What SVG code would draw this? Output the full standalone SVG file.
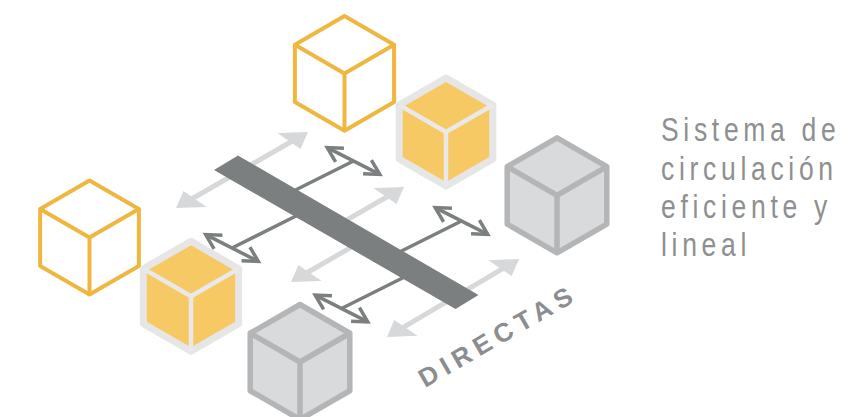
<svg xmlns="http://www.w3.org/2000/svg" width="866" height="417" viewBox="0 0 866 417">
  <style>
    .flow { fill: none; stroke: #d7d8d9; stroke-width: 5; marker-start: url(#headLight); marker-end: url(#headLight); }
    .branch { fill: none; stroke: #7b7f80; stroke-width: 3.5; }
    .link { fill: none; stroke: #7b7f80; stroke-width: 3.5; marker-start: url(#headDark); marker-end: url(#headDark); }
    .bar { fill: #7b7f80; }
    .cube-line { fill: #ffffff; stroke: #efb740; stroke-width: 4; stroke-linejoin: round; }
    .cube-line-in { fill: none; stroke: #efb740; stroke-width: 4; stroke-linejoin: round; }
    .cube-gold { fill: #f7c964; stroke: #e6e6e6; stroke-width: 7; stroke-linejoin: round; }
    .cube-gold-in { fill: none; stroke: #e9e9e9; stroke-width: 4.5; stroke-linejoin: round; }
    .cube-grey { fill: #d9dadb; stroke: #b4b5b7; stroke-width: 5.5; stroke-linejoin: round; }
    .cube-grey-in { fill: none; stroke: #b4b5b7; stroke-width: 5.5; stroke-linejoin: round; }
    .caption { font-family: "Liberation Sans", Arial, sans-serif; font-size: 34px; fill: #8e8f91; letter-spacing: 6px; }
    .tag { font-family: "Liberation Sans", Arial, sans-serif; font-size: 26px; font-weight: bold; fill: #8c8d8f; letter-spacing: 6px; }
  </style>
  <defs>
    <marker id="headLight" markerUnits="userSpaceOnUse" viewBox="-20 -20 40 40" markerWidth="40" markerHeight="40" refX="0" refY="0" orient="auto-start-reverse">
      <path d="M12,0 L-15,-14.5 L-3,11 Z" fill="#d7d8d9"/>
    </marker>
    <marker id="headDark" markerUnits="userSpaceOnUse" viewBox="-20 -20 40 40" markerWidth="40" markerHeight="40" refX="0" refY="0" orient="auto-start-reverse">
      <path d="M-15.2,7 L0,0 L-14,-9" fill="none" stroke="#7b7f80" stroke-width="3.5"/>
    </marker>
  </defs>

  <!-- circulation paths under the spine -->
  <g id="connectors">
    <path class="flow" d="M186.4,202 L297.6,138"/>
    <path class="flow" d="M301.4,276 L358,243.3 M340,223.9 L393.6,193"/>
    <path class="flow" d="M397.3,330.9 L508.7,265.1"/>

    <path class="branch" d="M232,248 L300,214 M290,192.75 L353.5,161"/>
    <path class="branch" d="M341.5,308.5 L410,274.25 M396,253.75 L461.5,221"/>
  </g>

  <!-- main spine -->
  <g id="spine">
    <polygon class="bar" points="214,170 238,155.5 478.5,295 455.5,309"/>
  </g>

  <!-- direct two-way links -->
  <g id="links">
    <path class="link" d="M327.2,147.6 L379.8,174.4"/>
    <path class="link" d="M205.7,234.6 L258.3,261.4"/>
    <path class="link" d="M435.2,207.6 L487.8,234.4"/>
    <path class="link" d="M315.2,295.1 L367.8,321.9"/>
  </g>

  <!-- blocks -->
  <g id="cube-top-outline">
    <polygon class="cube-line" points="344.5,16.1 394.1,44.75 394.1,102.05 344.5,130.7 294.9,102.05 294.9,44.75"/>
    <path class="cube-line-in" d="M294.9,44.75 L344.5,73.4 L394.1,44.75 M344.5,73.4 V130.7"/>
  </g>
  <g id="cube-left-outline">
    <polygon class="cube-line" points="89.5,180.5 138.86,209 138.86,266 89.5,294.5 40.14,266 40.14,209"/>
    <path class="cube-line-in" d="M40.14,209 L89.5,237.5 L138.86,209 M89.5,237.5 V294.5"/>
  </g>
  <g id="cube-top-gold">
    <polygon class="cube-gold" points="446,78 492.77,105 492.77,159 446,186 399.23,159 399.23,105"/>
    <path class="cube-gold-in" d="M399.23,105 L446,132 L492.77,105 M446,132 V186"/>
  </g>
  <g id="cube-left-gold">
    <polygon class="cube-gold" points="191,241.3 238.63,268.8 238.63,323.8 191,351.3 143.37,323.8 143.37,268.8"/>
    <path class="cube-gold-in" d="M143.37,268.8 L191,296.3 L238.63,268.8 M191,296.3 V351.3"/>
  </g>
  <g id="cube-right-grey">
    <polygon class="cube-grey" points="557,137.8 606.8,166.55 606.8,224.05 557,252.8 507.2,224.05 507.2,166.55"/>
    <path class="cube-grey-in" d="M507.2,166.55 L557,195.3 L606.8,166.55 M557,195.3 V252.8"/>
  </g>
  <g id="cube-bottom-grey">
    <polygon class="cube-grey" points="300,304.5 349.8,333.25 349.8,390.75 300,419.5 250.2,390.75 250.2,333.25"/>
    <path class="cube-grey-in" d="M250.2,333.25 L300,362 L349.8,333.25 M300,362 V419.5"/>
  </g>

  <!-- labels -->
  <g id="label-directas">
    <text class="tag" x="425" y="388" transform="rotate(-30 425 388)">DIRECTAS</text>
  </g>
  <g id="caption" transform="translate(661,0) scale(0.78,1)">
    <text class="caption" x="0" y="141.5">Sistema de</text>
    <text class="caption" x="0" y="179.8">circulación</text>
    <text class="caption" x="0" y="218.2">eficiente y</text>
    <text class="caption" x="0" y="256.5">lineal</text>
  </g>
</svg>
